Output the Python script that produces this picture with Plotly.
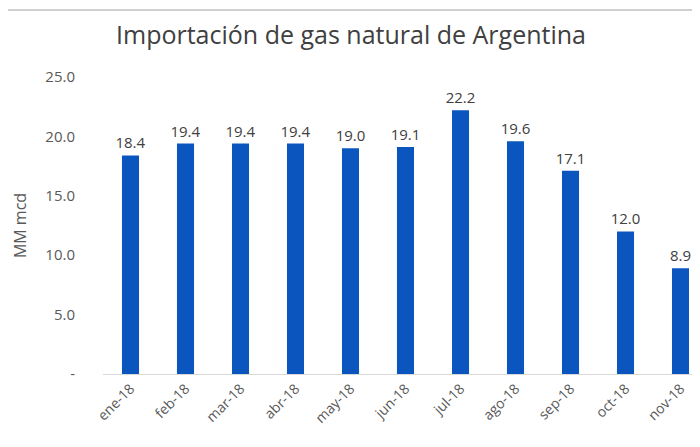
import plotly.graph_objects as go

months = ["ene-18", "feb-18", "mar-18", "abr-18", "may-18", "jun-18",
          "jul-18", "ago-18", "sep-18", "oct-18", "nov-18"]
imports = [18.4, 19.4, 19.4, 19.4, 19.0, 19.1, 22.2, 19.6, 17.1, 12.0, 8.9]
y_tickvals = [0, 5, 10, 15, 20, 25]
y_ticktext = ["-", "5.0", "10.0", "15.0", "20.0", "25.0"]

font_family = "Open Sans, Liberation Sans, sans-serif"
T, B = 69, 81
H = 447 - T - B

fig = go.Figure()
fig.add_trace(go.Bar(
    x=months, y=imports,
    marker=dict(color="#0A56BE", line=dict(width=0)),
    text=[f"{v:.1f}" for v in imports],
    textposition="outside",
    textfont=dict(size=15, color="#404040", family=font_family),
    cliponaxis=False,
))

fig.update_layout(
    width=700, height=447,
    margin=dict(l=95, r=0, t=T, b=B, autoexpand=False),
    paper_bgcolor="white", plot_bgcolor="white",
    title=dict(text="Importación de gas natural de Argentina",
               x=0.49, xanchor="center", y=1 - 27/447, yanchor="middle",
               font=dict(size=25, color="#404040", family=font_family)),
    bargap=0.69,
    showlegend=False,
    uniformtext=dict(minsize=15, mode="show"),
    font=dict(family=font_family, color="#595959"),
)
fig.update_xaxes(
    tickangle=-45, tickfont=dict(size=14, color="#595959"),
    showline=True, linecolor="#D9D9D9", linewidth=1,
    showgrid=False, ticks="", automargin=False,
)
fig.update_yaxes(
    range=[0, 25], tickvals=y_tickvals, ticktext=y_ticktext,
    tickfont=dict(size=15, color="#595959"),
    showgrid=False, zeroline=False, showline=False, automargin=False,
    title=dict(text="MM mcd", font=dict(size=16, color="#595959"), standoff=14),
    ticklabelstandoff=27,
)
# light frame lines of the image
fig.add_shape(type="line", xref="paper", yref="paper",
              x0=-95/605, x1=1, y0=(447-B-2)/H, y1=(447-B-2)/H,
              line=dict(color="#D0D0D0", width=2))
fig.add_shape(type="line", xref="paper", yref="paper",
              x0=-95/605, x1=1, y0=-(B-4)/H, y1=-(B-4)/H,
              line=dict(color="#D0D0D0", width=2))

fig.write_html("out.html")
